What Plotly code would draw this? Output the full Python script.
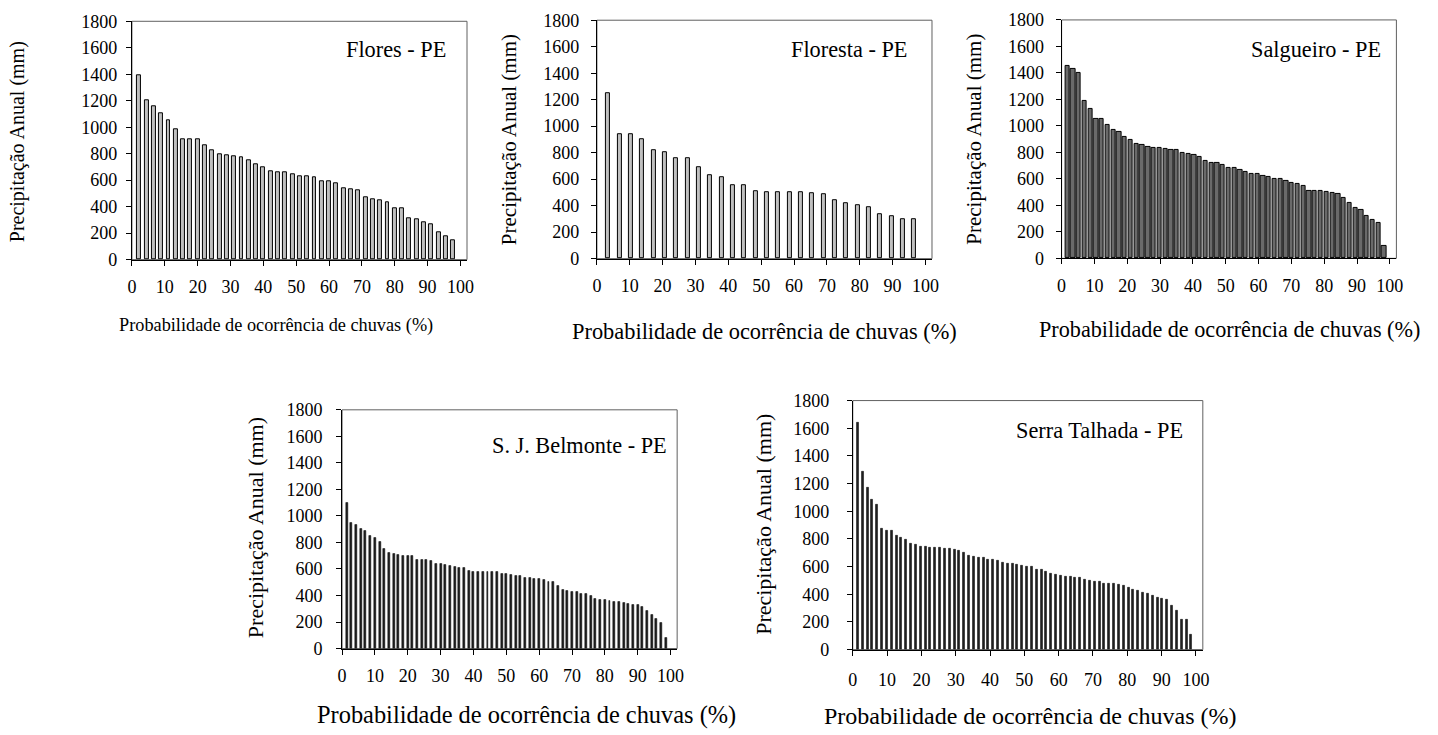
import plotly.graph_objects as go

W, H = 1438, 735

# ---- data (annual precipitation, mm, ranked) ----
flores = [1392, 1202, 1155, 1107, 1052, 982, 910, 907, 907, 860, 827, 797, 787, 777, 775,
          747, 720, 695, 667, 662, 662, 647, 632, 630, 625, 590, 590, 575, 540, 535, 522,
          470, 455, 447, 432, 390, 387, 315, 302, 282, 267, 207, 180, 145]
floresta = [1250, 940, 940, 902, 822, 807, 757, 757, 690, 627, 617, 555, 555, 510, 505,
            505, 500, 500, 495, 490, 442, 417, 400, 387, 337, 320, 297, 295]
salgueiro = [1452, 1427, 1397, 1190, 1125, 1055, 1050, 1005, 967, 952,
             915, 897, 865, 860, 845, 832, 832, 825, 820, 817,
             797, 785, 780, 762, 735, 720, 720, 702, 685,
             685, 667, 652, 635, 635, 622, 617, 600, 600, 587,
             570, 560, 547, 512, 512, 507, 502, 495, 487, 457,
             420, 380, 367, 322, 287, 270, 92]
belmonte = [1100, 947, 930, 900, 890, 847, 837, 802, 755, 725,
            712, 710, 702, 697, 697, 670, 667, 667, 660, 637,
            637, 630, 622, 620, 612, 605, 585, 582, 582, 577,
            577, 575, 575, 567,
            560, 557, 552, 545, 537, 535, 525, 525, 520, 502,
            500, 470, 440, 437, 425, 425, 412, 410, 397, 375,
            370, 370, 362, 352, 350, 347, 335, 332, 332, 315,
            282, 257, 225, 192, 82]
serra = [1644, 1289, 1171, 1085, 1051, 876, 864, 864, 823, 811,
         792, 766, 761, 744, 742, 739, 737, 734, 732, 730,
         722, 718, 703, 682, 672, 667, 662, 653, 653, 646,
         626, 624, 622, 614, 611, 599,
         598, 581, 578, 566, 547, 540, 533, 528, 526, 523,
         518, 504, 497, 492, 490, 480, 478, 475, 473, 463,
         449, 432, 425, 413, 403, 394, 377, 367, 360, 317,
         283, 216, 216, 110]

stations = ["Flores - PE", "Floresta - PE", "Salgueiro - PE", "S. J. Belmonte - PE", "Serra Talhada - PE"]
series = [flores, floresta, salgueiro, belmonte, serra]
y_ticks = list(range(0, 1801, 200))
x_ticks = list(range(0, 101, 10))
y_title = "Precipitação Anual (mm)"
x_title = "Probabilidade de ocorrência de chuvas (%)"

# ---- layout / style per panel (pixel geometry) ----
panels = [
    dict(x0=128.0, x1=465.9, ytop=11.6, ybot=256.6, fill="#c0c0c0", bw=1.2, lw=1,
         lab=(394, 41), yt=(12, 135), xt=(273, 324), xtsize=18.3, ytsize=20, ysoff=5, xsoff=6),
    dict(x0=596.9, x1=934.8, ytop=10.5, ybot=255.6, fill="#c0c0c0", bw=1.2, lw=1,
         lab=(851.6, 41), yt=(509, 133), xt=(766, 330), xtsize=22.4, ytsize=21, ysoff=8, xsoff=6),
    dict(x0=1065.5, x1=1403.1, ytop=10.2, ybot=255.3, fill="#6a6a6a", bw=1.3, lw=1,
         lab=(1322, 41), yt=(977.5, 133), xt=(1234.5, 328), xtsize=22.2, ytsize=21, ysoff=8, xsoff=6),
    dict(x0=339.9, x1=677.8, ytop=411.0, ybot=656.4, fill="#202020", bw=0.6, lw=0.5,
         lab=(579.5, 448), yt=(252, 531.7), xt=(526, 724.5), xtsize=24.4, ytsize=22, ysoff=10, xsoff=6),
    dict(x0=854.9, x1=1207.9, ytop=401.5, ybot=657.5, fill="#202020", bw=0.58, lw=0.5,
         lab=(1103.5, 432.5), yt=(765, 528.6), xt=(1034, 726), xtsize=24, ytsize=22, ysoff=14, xsoff=9),
]

FONT = "Liberation Serif"
fig = go.Figure()
annotations = []
shapes = []

for i, (p, vals, name) in enumerate(zip(panels, series, stations)):
    k = "" if i == 0 else str(i + 1)
    n = len(vals)
    xs = [100.0 * (j + 1) / (n + 1) for j in range(n)]
    fig.add_trace(go.Bar(
        x=xs, y=vals, width=p["bw"], xaxis="x" + k, yaxis="y" + k,
        marker=dict(color=p["fill"], line=dict(color="black", width=p["lw"])),
        showlegend=False, hoverinfo="skip"))
    axx = dict(domain=[p["x0"] / W, p["x1"] / W], range=[0, 102], anchor="y" + k,
               tickvals=x_ticks, ticks="outside", ticklen=5, tickcolor="black",
               showline=True, linecolor="black", linewidth=1, showgrid=False, zeroline=False,
               tickfont=dict(family=FONT, size=18, color="black"), ticklabelstandoff=p["xsoff"])
    axy = dict(domain=[1 - p["ybot"] / H, 1 - p["ytop"] / H], range=[0, 1800], anchor="x" + k,
               tickvals=y_ticks, ticks="outside", ticklen=5, tickcolor="black",
               showline=True, linecolor="black", linewidth=1, showgrid=False, zeroline=False,
               tickfont=dict(family=FONT, size=18, color="black"), ticklabelstandoff=p["ysoff"])
    fig.layout["xaxis" + k] = axx
    fig.layout["yaxis" + k] = axy
    shapes.append(dict(type="rect", xref="x" + k + " domain", yref="y" + k + " domain",
                       x0=0, x1=1, y0=0, y1=1, line=dict(color="#606060", width=1),
                       fillcolor="rgba(0,0,0,0)", layer="below"))
    annotations.append(dict(text=name, x=p["lab"][0] / W, y=1 - p["lab"][1] / H,
                            xref="paper", yref="paper", showarrow=False,
                            xanchor="center", yanchor="middle",
                            font=dict(family=FONT, size=22.3, color="black")))
    annotations.append(dict(text=y_title, x=p["yt"][0] / W, y=1 - p["yt"][1] / H,
                            xref="paper", yref="paper", showarrow=False, textangle=-90,
                            xanchor="center", yanchor="middle",
                            font=dict(family=FONT, size=p["ytsize"], color="black")))
    annotations.append(dict(text=x_title, x=p["xt"][0] / W, y=1 - p["xt"][1] / H,
                            xref="paper", yref="paper", showarrow=False,
                            xanchor="center", yanchor="middle",
                            font=dict(family=FONT, size=p["xtsize"], color="black")))

fig.update_layout(width=W, height=H, autosize=False,
                  margin=dict(l=0, r=0, t=0, b=0),
                  font=dict(family=FONT),
                  paper_bgcolor="white", plot_bgcolor="white",
                  bargap=0, annotations=annotations, shapes=shapes)

page_fix = (
    "var d=document.documentElement.style;d.margin='0';d.padding='0';d.overflow='hidden';"
    "var b=document.body.style;b.margin='0';b.padding='0';b.overflow='hidden';"
    "b.width='1438px';b.height='735px';"
)
fig.write_html("out.html", config={"displayModeBar": False}, post_script=page_fix)
